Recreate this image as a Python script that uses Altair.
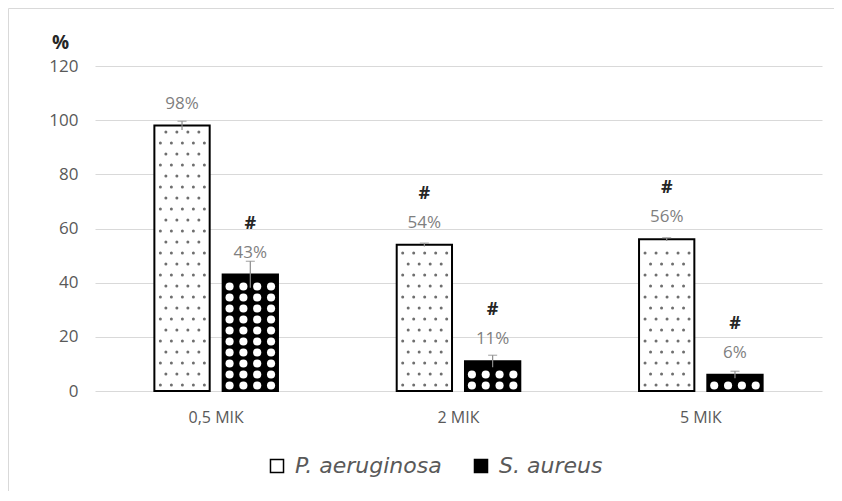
import altair as alt
import pandas as pd

categories = ["0,5 МІК", "2 МІК", "5 МІК"]
series = ["P. aeruginosa", "S. aureus"]
p_values = [98, 54, 56]
s_values = [43, 11, 6]
p_errors = [1.6, 0.6, 0.6]
s_errors = [4.9, 2.2, 1.3]
p_marks = ["", "#", "#"]
s_marks = ["#", "#", "#"]
y_ticks = [0, 20, 40, 60, 80, 100, 120]

W, H = 727, 325
FONT = "Open Sans"

rows = []
for i, c in enumerate(categories):
    rows.append(dict(cat=c, series=series[0], value=p_values[i], err=p_errors[i], mark=p_marks[i]))
    rows.append(dict(cat=c, series=series[1], value=s_values[i], err=s_errors[i], mark=s_marks[i]))
df = pd.DataFrame(rows)
df["lo"] = df["value"] - df["err"]
df["hi"] = df["value"] + df["err"]
df["label"] = df["value"].astype(int).astype(str) + "%"

# --- fill texture (pattern) derived from the bar values ---
X_PAD_IN, OFF_PAD_IN = 0.49, 0.19
group_w = (W / 3) * (1 - X_PAD_IN)
off_step = group_w / (2 - OFF_PAD_IN)
bar_w = off_step * (1 - OFF_PAD_IN)
px = 120 / H  # value units per pixel
tex = []
for _, r in df.iterrows():
    top_px = r["value"] / px
    if r["series"] == series[1]:
        start = off_step
        cols = [start + bar_w * (k + 0.5) / 4 for k in range(4)]
        k = 0
        while 5.5 + 11 * k + 3 <= top_px:
            for cx in cols:
                tex.append(dict(cat=r["cat"], kind="s", dx=cx, y=(5.5 + 11 * k) * px))
            k += 1
    else:
        k = 0
        while 6 + 11 * k + 3 <= top_px:
            shift = 0 if k % 2 == 0 else 5.5
            cx = 6 + shift
            while cx <= bar_w - 5:
                tex.append(dict(cat=r["cat"], kind="p", dx=cx, y=(6 + 11 * k) * px))
                cx += 11
            k += 1
tex = pd.DataFrame(tex)

x_axis = alt.Axis(title=None, labelAngle=0, ticks=False, domain=False,
                  labelPadding=18, labelFontSize=16, labelColor="#595959")
x_scale = alt.Scale(domain=categories, paddingInner=X_PAD_IN, paddingOuter=X_PAD_IN / 2)
y_axis = alt.Axis(values=y_ticks, grid=True, gridColor="#d9d9d9", domain=False, ticks=False,
                  labelPadding=17, labelFontSize=17, labelColor="#595959",
                  title="%", titleAngle=0, titleX=-35, titleY=-24, titleAlign="center",
                  titleBaseline="middle", titleFontSize=19, titleFontWeight="bold",
                  titleColor="#262626")
y_scale = alt.Scale(domain=[0, 120], nice=False)


def X():
    return alt.X("cat:N", sort=categories, scale=x_scale, axis=x_axis)


def Y(field):
    return alt.Y(field, scale=y_scale, axis=y_axis)


xoff = alt.XOffset("series:N", sort=series,
                   scale=alt.Scale(type="band", domain=series, paddingInner=OFF_PAD_IN, paddingOuter=0))

bars = alt.Chart(df).mark_bar(stroke="black", strokeWidth=2).encode(
    x=X(),
    xOffset=xoff,
    y=Y("value:Q"),
    color=alt.Color("series:N", sort=series,
                    scale=alt.Scale(domain=series, range=["white", "black"]),
                    legend=alt.Legend(title=None, orient="none", legendX=171, legendY=389,
                                      direction="horizontal", symbolType="square", symbolSize=170,
                                      symbolStrokeColor="black", symbolStrokeWidth=1.5,
                                      labelFont="DejaVu Sans", labelFontSize=22,
                                      labelFontStyle="italic", labelColor="#595959",
                                      columnPadding=28, labelOffset=7, padding=0)),
)

dots = alt.Chart(tex).mark_point(filled=True, shape="circle", opacity=1).encode(
    x=X(),
    xOffset=alt.XOffset("dx:Q", scale=alt.Scale(domain=[0, group_w], range=[0, group_w])),
    y=Y("y:Q"),
    color=alt.Color("kind:N", scale=alt.Scale(domain=["p", "s"], range=["#6e6e6e", "white"]), legend=None),
    size=alt.Size("kind:N", scale=alt.Scale(domain=["p", "s"], range=[9, 66]), legend=None),
)

err_rule = alt.Chart(df).mark_rule(color="#8c8c8c", strokeWidth=1.2).encode(
    x=X(), xOffset=xoff, y=Y("lo:Q"), y2="hi:Q",
)
err_cap = alt.Chart(df).mark_tick(color="#8c8c8c", thickness=1.2, size=9).encode(
    x=X(), xOffset=xoff, y=Y("hi:Q"),
)
labels = alt.Chart(df).mark_text(dy=-22, baseline="middle", fontSize=17,
                                 color="#7f7f7f").encode(
    x=X(), xOffset=xoff, y=Y("value:Q"), text="label:N",
)
hashes = alt.Chart(df).mark_text(dy=-51, baseline="middle", fontSize=18,
                                 fontWeight="bold", color="#262626").encode(
    x=X(), xOffset=xoff, y=Y("value:Q"), text="mark:N",
)

frame_df = pd.DataFrame({"k": [0]})
frame_left = alt.Chart(frame_df).mark_rule(color="#d9d9d9", strokeWidth=1).encode(
    x=alt.value(-86.5), y=alt.value(-57.5), y2=alt.value(H + 110))
frame_top = alt.Chart(frame_df).mark_rule(color="#d9d9d9", strokeWidth=1).encode(
    x=alt.value(-86.5), x2=alt.value(W + 30), y=alt.value(-57.5))

chart = alt.layer(bars, dots, err_rule, err_cap, labels, hashes, frame_left, frame_top).resolve_scale(
    xOffset="independent", color="independent", size="independent"
).properties(
    width=W, height=H, autosize="none",
    padding={"left": 87, "top": 58, "right": 12, "bottom": 100},
).configure(font=FONT).configure_view(stroke=None)

chart.save("out.html", embed_options={"renderer": "svg", "actions": False})
